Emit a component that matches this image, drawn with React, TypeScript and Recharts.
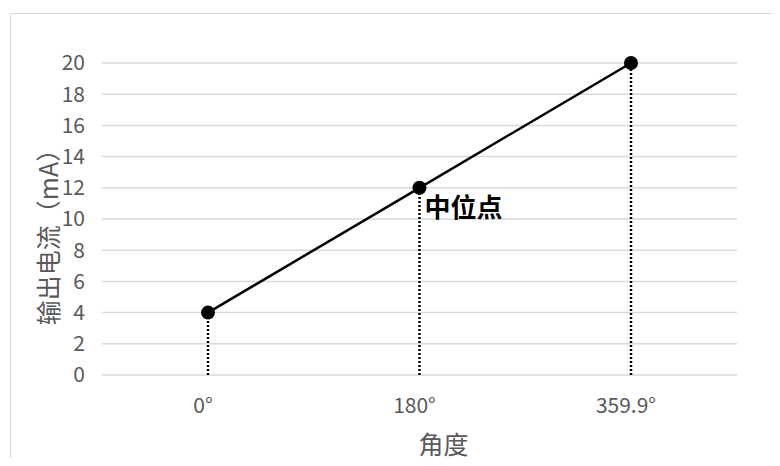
import React from 'react'
import { LineChart, Line, XAxis, YAxis, CartesianGrid, ReferenceLine, LabelList, Label } from 'recharts'

const angles = ['0°', '180°', '359.9°']
const current = [4, 12, 20]
const notes = ['', '中位点', '']
const yTicks = [0, 2, 4, 6, 8, 10, 12, 14, 16, 18, 20]

const data = angles.map((a, i) => ({ angle: a, current: current[i], note: notes[i] }))

const FONT = '"Noto Sans CJK SC", "Noto Sans", sans-serif'
const GREY = '#595959'

function MidLabel(props: any) {
  const { x, y, index } = props
  const text = notes[index]
  if (!text) return null
  return (
    <text x={x + 5} y={y + 29} fontSize={26} fontWeight="bold" fill="#000" fontFamily={FONT}>
      {text}
    </text>
  )
}

function YTitle(props: any) {
  const { viewBox } = props
  const cx = viewBox.x + 47
  const cy = viewBox.y + viewBox.height / 2 + 12
  return (
    <text
      x={cx}
      y={cy}
      transform={`rotate(-90, ${cx}, ${cy})`}
      textAnchor="middle"
      dominantBaseline="central"
      fontSize={25}
      fill={GREY}
      fontFamily={FONT}
    >
      输出电流（mA）
    </text>
  )
}

function XTitle(props: any) {
  const { viewBox } = props
  const cx = viewBox.x + viewBox.width / 2 + 24
  return (
    <text x={cx} y={454} textAnchor="middle" fontSize={25} fill={GREY} fontFamily={FONT}>
      角度
    </text>
  )
}

function XTick(props: any) {
  const { x, y, payload } = props
  return (
    <text x={x - 5} y={y + 7} textAnchor="middle" dominantBaseline="central" fontSize={21} fill={GREY} fontFamily={FONT}>
      {payload.value}
    </text>
  )
}

export default function App() {
  return (
    <div style={{ position: 'relative', width: 780, height: 466, overflow: 'hidden', background: '#fff', margin: -8 }}>
      <div
        style={{
          position: 'absolute',
          left: 10,
          top: 13,
          width: 820,
          height: 520,
          border: '1.5px solid #d9d9d9',
        }}
      />
      <div style={{ position: 'absolute', left: 0, top: 0 }}>
        <LineChart width={780} height={466} data={data} margin={{ top: 63, right: 43, left: 0, bottom: 0 }}>
          <CartesianGrid vertical={false} stroke="#d9d9d9" strokeWidth={1.5} />
          <XAxis
            dataKey="angle"
            height={91}
            padding={{ left: 106, right: 106 }}
            axisLine={false}
            tickLine={false}
            tickSize={0}
            tickMargin={22}
            tick={<XTick />}
          >
            <Label content={<XTitle />} />
          </XAxis>
          <YAxis
            width={102}
            domain={[0, 20]}
            ticks={yTicks}
            axisLine={false}
            tickLine={false}
            tickSize={0}
            tickMargin={17}
            tick={{ fontSize: 21, fill: GREY, fontFamily: FONT }}
          >
            <Label content={<YTitle />} />
          </YAxis>
          {data.map((d) => (
            <ReferenceLine
              key={d.angle}
              segment={[
                { x: d.angle, y: 0 },
                { x: d.angle, y: d.current },
              ]}
              stroke="#000"
              strokeWidth={2.5}
              strokeDasharray="2 2"
            />
          ))}
          <Line
            type="linear"
            dataKey="current"
            stroke="#000"
            strokeWidth={2.5}
            dot={{ r: 7, fill: '#000', stroke: '#000', strokeWidth: 0 }}
            activeDot={false}
            isAnimationActive={false}
          >
            <LabelList dataKey="current" content={<MidLabel />} />
          </Line>
        </LineChart>
      </div>
    </div>
  )
}
